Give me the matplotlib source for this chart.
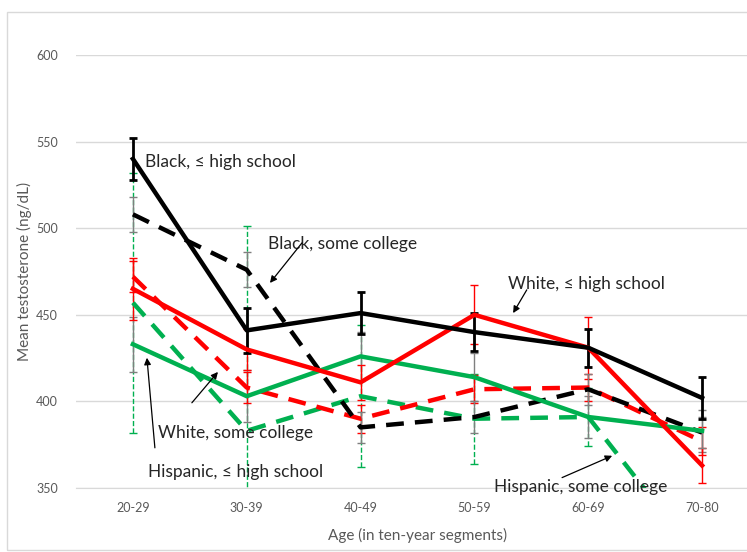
import matplotlib.pyplot as plt
from matplotlib.patches import Rectangle

# age groups and mean testosterone (ng/dL) per group
ages = ["20-29", "30-39", "40-49", "50-59", "60-69", "70-80"]

black_hs = [540, 441, 451, 440, 431, 402]
black_col = [508, 476, 385, 391, 407, 382]
white_hs = [465, 430, 411, 450, 431, 363]
white_col = [472, 408, 390, 407, 408, 377]
hisp_hs = [433, 403, 426, 414, 391, 383]
hisp_col = [457, 383, 403, 390, 391, 307]

# error bar half-widths
black_hs_err = [12, 13, 12, 11, 11, 12]
black_col_err = [10, 10, 9, 9, 9, 9]
white_hs_err = [18, 12, 10, 17, 18, 10]
white_col_err = [9, 9, 8, 8, 8, 8]
hisp_hs_err = [16, 15, 14, 14, 12, 12]
hisp_col_err = [75, 118, 41, 26, 17, 15]

plt.rcParams['font.family'] = ['Lato', 'DejaVu Sans']

RED = "#FF0000"
GREEN = "#00B050"
GREY_TXT = "#595959"

fig = plt.figure(figsize=(7.47, 5.52), dpi=100)
ax = fig.add_axes([76 / 747, 64 / 552, 683 / 747, 433 / 552])

# chart area border
fig.patches.append(Rectangle((7 / 747, 2 / 552), 745 / 747, 538 / 552,
                             transform=fig.transFigure, fill=False,
                             edgecolor="#d9d9d9", linewidth=1))

x = list(range(len(ages)))

# error bars first so the lines sit on top
def bars(vals, err, color, lw, style="-", cap=3):
    eb = ax.errorbar(x, vals, yerr=err, fmt="none", ecolor=color,
                     elinewidth=lw, capsize=cap, capthick=lw, zorder=2)
    for c in eb[2]:
        c.set_linestyle(style)
    return eb

bars(hisp_col, hisp_col_err, GREEN, 1, "--")
bars(hisp_hs, hisp_hs_err, "#7f7f7f", 1)
bars(white_hs, white_hs_err, RED, 1)
bars(white_col, white_col_err, RED, 1)
bars(black_col, black_col_err, "#7f7f7f", 1)
bars(black_hs, black_hs_err, "black", 2, cap=3)

dash = (4, 2.5)
ax.plot(x, hisp_col, color=GREEN, lw=3.2, dashes=dash, zorder=3)
ax.plot(x, white_col, color=RED, lw=3.2, dashes=dash, zorder=3)
ax.plot(x, black_col, color="black", lw=3.2, dashes=dash, zorder=3)
ax.plot(x, hisp_hs, color=GREEN, lw=3.2, zorder=4)
ax.plot(x, white_hs, color=RED, lw=3.2, zorder=4)
ax.plot(x, black_hs, color="black", lw=3.2, zorder=5)

ax.set_xlim(-0.5, 5.5)
ax.set_ylim(350, 600)
ax.set_yticks(range(350, 601, 50))
ax.set_xticks(x)
ax.set_xticklabels(ages)
ax.tick_params(length=0, labelsize=9, colors=GREY_TXT, pad=10)
ax.tick_params(axis="y", pad=13)
ax.grid(axis="y", color="#d9d9d9", lw=1)
ax.set_axisbelow(True)
for s in ["top", "right", "left"]:
    ax.spines[s].set_visible(False)
ax.spines["bottom"].set_color("#d9d9d9")

ax.set_ylabel("Mean testosterone (ng/dL)", fontsize=11, color=GREY_TXT, labelpad=3)
ax.set_xlabel("Age (in ten-year segments)", fontsize=11, color=GREY_TXT, labelpad=10)

# series labels
lab = dict(fontsize=12.5, color="#262626", zorder=6, va="center")
ax.text(0.11, 538, "Black, ≤ high school", ha="left", **lab)
ax.text(1.845, 491, "Black, some college", ha="center", **lab)
ax.text(3.98, 468, "White, ≤ high school", ha="center", **lab)
ax.text(0.90, 382, "White, some college", ha="center", **lab)
ax.text(0.90, 359, "Hispanic, ≤ high school", ha="center", **lab)
ax.text(3.93, 350.5, "Hispanic, some college", ha="center", **lab)

# arrows from the labels to their lines: (tail, head)
arrows = [((1.485, 491.5), (1.204, 468.4)),
          ((3.46, 464.4), (3.34, 451.0)),
          ((0.518, 399.2), (0.747, 417.0)),
          ((0.193, 373.2), (0.123, 425.2)),
          ((3.77, 356.0), (4.21, 368.6))]
for tail, head in arrows:
    ax.annotate("", xy=head, xytext=tail, annotation_clip=False, zorder=6,
                arrowprops=dict(arrowstyle="-|>", color="black", lw=0.9,
                                mutation_scale=10, shrinkA=0, shrinkB=0))

fig.savefig("out.png", dpi=100)
